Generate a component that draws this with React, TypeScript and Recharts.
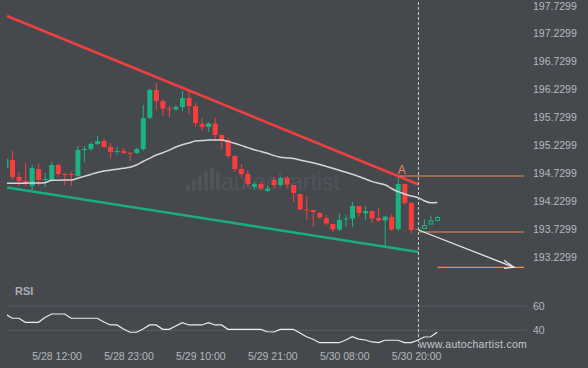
import React from 'react';
import {
  ComposedChart,
  Bar,
  Line,
  XAxis,
  YAxis,
  ReferenceLine,
  ReferenceDot
} from 'recharts';

// hourly candles, 5/28 04:00 onwards
const opens = [194.873, 195.016, 194.712, 194.641, 194.552, 194.855, 194.659, 194.659, 194.927, 194.766,
  194.766, 194.730, 195.194, 195.212, 195.302, 195.355, 195.248, 195.168, 195.177, 195.141,
  195.141, 195.212, 195.766, 196.266, 196.069, 195.936, 195.918, 195.962, 196.123, 195.980,
  195.659, 195.605, 195.668, 195.462, 195.373, 195.087, 194.855, 194.766, 194.534, 194.587,
  194.462, 194.659, 194.569, 194.694, 194.569, 194.409, 194.132, 194.123, 194.069, 193.980,
  193.873, 193.775, 193.962, 193.971, 194.194, 194.061, 194.105, 193.980, 193.936, 193.998,
  193.784, 194.587, 194.248, 193.775, 193.793, 193.873, 193.936];
const highs = [195.052, 195.177, 194.802, 194.962, 194.927, 194.944, 194.784, 194.980, 194.944, 194.784,
  194.802, 195.266, 195.266, 195.337, 195.444, 195.391, 195.319, 195.248, 195.230, 195.159,
  195.230, 195.998, 196.284, 196.391, 196.105, 195.980, 195.998, 196.248, 196.248, 196.034,
  195.766, 195.686, 195.766, 195.462, 195.409, 195.105, 194.944, 194.837, 194.623, 194.623,
  194.552, 194.712, 194.712, 194.730, 194.569, 194.409, 194.373, 194.123, 194.087, 194.034,
  193.873, 194.061, 194.034, 194.266, 194.194, 194.194, 194.105, 194.159, 194.007, 194.052,
  194.718, 194.596, 194.266, 193.784, 193.953, 194.025, 194.021];
const lows = [194.855, 194.659, 194.552, 194.552, 194.462, 194.552, 194.534, 194.623, 194.712, 194.569,
  194.552, 194.712, 194.980, 195.177, 195.284, 195.230, 195.052, 195.105, 195.123, 194.998,
  195.123, 195.177, 195.748, 195.909, 195.802, 195.784, 195.891, 195.891, 195.837, 195.605,
  195.534, 195.516, 195.373, 195.212, 195.052, 194.802, 194.694, 194.534, 194.480, 194.480,
  194.444, 194.516, 194.552, 194.516, 194.266, 194.123, 193.944, 193.819, 193.971, 193.855,
  193.730, 193.748, 193.819, 193.819, 194.007, 193.944, 193.891, 193.909, 193.468, 193.748,
  193.748, 194.212, 193.703, 193.766, 193.793, 193.873, 193.936];
const closes = [195.034, 194.712, 194.641, 194.605, 194.873, 194.659, 194.677, 194.927, 194.766, 194.748,
  194.748, 195.194, 195.212, 195.302, 195.355, 195.248, 195.159, 195.177, 195.141, 195.132,
  195.212, 195.766, 196.266, 196.069, 195.936, 195.927, 195.962, 196.123, 195.980, 195.677,
  195.605, 195.668, 195.462, 195.373, 195.087, 194.855, 194.766, 194.587, 194.587, 194.507,
  194.507, 194.569, 194.694, 194.578, 194.427, 194.132, 194.123, 194.087, 193.989, 193.882,
  193.775, 193.944, 193.971, 194.194, 194.069, 194.105, 193.971, 193.936, 194.007, 193.775,
  194.587, 194.248, 193.766, 193.784, 193.846, 193.927, 193.989];
const maValues = [194.600, 194.600, 194.600, 194.602, 194.605, 194.605, 194.611, 194.653, 194.655, 194.657,
  194.659, 194.689, 194.723, 194.757, 194.794, 194.819, 194.834, 194.852, 194.869, 194.886,
  194.927, 194.989, 195.046, 195.105, 195.144, 195.191, 195.248, 195.289, 195.319, 195.355,
  195.362, 195.371, 195.373, 195.373, 195.348, 195.314, 195.277, 195.237, 195.198, 195.168,
  195.137, 195.096, 195.064, 195.052, 195.043, 195.016, 194.989, 194.966, 194.936, 194.902,
  194.868, 194.832, 194.796, 194.762, 194.721, 194.677, 194.634, 194.602, 194.573, 194.507,
  194.450, 194.409, 194.373, 194.346, 194.289, 194.253, 194.257];
const rsiValues = [53.2, 49.9, 49.9, 46.6, 46.6, 46.6, 50.5, 53.4, 53.4, 53.4,
  49.9, 49.9, 49.9, 49.9, 49.9, 46.8, 44.4, 44.4, 41.1, 38.4,
  38.4, 41.1, 44.4, 44.4, 40.8, 40.8, 43.5, 46.3, 44.4, 44.4,
  44.4, 46.3, 44.4, 44.4, 40.8, 40.8, 40.8, 40.8, 40.8, 40.8,
  38.8, 38.6, 40.8, 40.8, 40.8, 37.8, 34.7, 32.6, 29.8, 29.8,
  29.8, 29.8, 32.0, 34.7, 32.8, 32.0, 30.4, 29.8, 31.8, 31.8,
  31.8, 29.8, 29.8, 31.8, 34.5, 34.7, 38.4];

const timeTickIndex = [8, 19, 30, 41, 52, 63];
const timeTickLabels = ['5/28 12:00', '5/28 23:00', '5/29 10:00', '5/29 21:00', '5/30 08:00', '5/30 20:00'];
const priceTicks = [193.2299, 193.7299, 194.2299, 194.7299, 195.2299, 195.7299, 196.2299, 196.7299, 197.2299, 197.7299];
const rsiTicks = [40, 60];

// pattern annotations (x in candle index units)
const patternEnd = 63.13;
const resistanceLine = [{ x: 0.19, y: 197.587 }, { x: 63.13, y: 194.578 }];
const supportLine = [{ x: 0.19, y: 194.5245 }, { x: 63.13, y: 193.3728 }];
const breakoutLevel = [{ x: 60.19, y: 194.7299 }, { x: 79.27, y: 194.7299 }];
const currentLevel = [{ x: 63.25, y: 193.7299 }, { x: 79.27, y: 193.7299 }];
const targetLevel = [{ x: 66.04, y: 193.0996 }, { x: 79.27, y: 193.0996 }];
const forecastArrow = [{ x: 63.13, y: 193.766 }, { x: 77.75, y: 193.0996 }];

const BG = '#45494e';
const GREEN = '#1bb381';
const RED = '#fb3d3d';
const ORANGE = '#f58b4c';
const AXIS_TEXT = '#b4b8bd';

const xDomain = [0.19, 79.73];

const data = opens.map((open, idx) => ({
  idx,
  open,
  high: highs[idx],
  low: lows[idx],
  close: closes[idx],
  ma: maValues[idx],
  rsi: rsiValues[idx]
}));

const Candle = (props: any) => {
  const { x, y, width, height, payload } = props;
  const { open, close, high, low, idx } = payload;
  const top = Math.min(y, y + height);
  const span = Math.abs(height);
  const unit = high > low ? span / (high - low) : 0;
  const toY = (v: number) => top + (high - v) * unit;
  const color = close >= open ? GREEN : RED;
  const cx = x + width / 2;
  const bodyTop = toY(Math.max(open, close));
  const bodyH = Math.max(1, Math.abs(toY(open) - toY(close)));
  const hollow = idx > patternEnd;
  return (
    <g>
      <line x1={cx} x2={cx} y1={top} y2={top + span} stroke={color} strokeWidth={1} />
      {hollow ? (
        <rect x={x + 0.5} y={bodyTop} width={width - 1} height={bodyH} fill={BG} stroke={color} strokeWidth={1} />
      ) : (
        <rect x={x} y={bodyTop} width={width} height={bodyH} fill={color} />
      )}
    </g>
  );
};

const PriceTick = ({ x, y, payload }: any) => (
  <text x={x} y={y + 0.5} fill={AXIS_TEXT} fontSize={10.5} textAnchor="start">
    {payload.value.toFixed(4)}
  </text>
);

const RsiTick = ({ x, y, payload }: any) => (
  <text x={x} y={y + 3.8} fill={AXIS_TEXT} fontSize={10.5} textAnchor="start">
    {payload.value}
  </text>
);

const ArrowHead = ({ cx, cy }: any) => (
  <path d={`M${cx - 10},${cy - 7} L${cx},${cy} L${cx - 10},${cy + 1}`} fill="none" stroke="#e6e6e6" strokeWidth={1.3} />
);

const Watermark = () => {
  const bars = [[186, 185], [192, 180], [198, 175], [204, 171], [210, 168], [216, 172]];
  return (
    <svg width={588} height={368} style={{ position: 'absolute', left: 0, top: 0 }}>
      {bars.map(([bx, by], i) => (
        <rect key={i} x={bx} y={by} width={4} height={191 - by} rx={2} fill="#505459" />
      ))}
      <text x={221} y={190} fontSize={23} fill="#505459">autochartist</text>
    </svg>
  );
};

export default function App() {
  return (
    <div
      style={{
        position: 'absolute',
        left: 0,
        top: 0,
        width: 588,
        height: 368,
        background: BG,
        fontFamily: '"Liberation Sans", Arial, sans-serif',
        overflow: 'hidden'
      }}
    >
      <Watermark />
      <div style={{ position: 'absolute', left: 0, top: 0 }}>
        <ComposedChart width={588} height={280} data={data} margin={{ top: 0, right: 0, bottom: 0, left: 7 }}>
          <XAxis dataKey="idx" type="number" domain={xDomain} allowDataOverflow hide />
          <YAxis
            orientation="right"
            width={61}
            domain={[192.8728, 197.8728]}
            allowDataOverflow
            ticks={priceTicks}
            axisLine={false}
            tickLine={false}
            tickSize={0}
            tickMargin={6}
            tick={<PriceTick />}
          />
          <Bar dataKey={(d: any) => [d.low, d.high]} barSize={5} shape={<Candle />} isAnimationActive={false} />
          <Line dataKey="ma" type="monotone" stroke="#d6d6d6" strokeWidth={1.5} dot={false} isAnimationActive={false} />
          <ReferenceLine segment={resistanceLine} stroke="#f03f3f" strokeWidth={2.5} />
          <ReferenceLine segment={supportLine} stroke="#19ad7f" strokeWidth={2.5} />
          <ReferenceLine segment={breakoutLevel} stroke={ORANGE} strokeWidth={1.2} />
          <ReferenceLine segment={currentLevel} stroke={ORANGE} strokeWidth={1.2} />
          <ReferenceLine segment={targetLevel} stroke={ORANGE} strokeWidth={1.2} />
          <ReferenceLine segment={forecastArrow} stroke="#e6e6e6" strokeWidth={1.3} />
          <ReferenceDot x={forecastArrow[1].x} y={forecastArrow[1].y} r={0} shape={<ArrowHead />} />
          <ReferenceDot
            x={60.57}
            y={breakoutLevel[0].y}
            r={0}
            fill="none"
            stroke="none"
            label={{ value: 'A', position: 'top', fill: '#ec8a4f', fontSize: 12, offset: 2 }}
          />
          <ReferenceLine x={patternEnd} stroke="#c9c9c9" strokeDasharray="3 2" />
        </ComposedChart>
      </div>
      <div style={{ position: 'absolute', left: 0, top: 280 }}>
        <ComposedChart width={588} height={88} data={data} margin={{ top: 0, right: 0, bottom: 0, left: 7 }}>
          <XAxis
            dataKey="idx"
            type="number"
            domain={xDomain}
            allowDataOverflow
            ticks={timeTickIndex}
            interval={0}
            height={21}
            axisLine={false}
            tickLine={false}
            tickSize={0}
            tickMargin={6}
            tick={{ fill: AXIS_TEXT, fontSize: 10.5, dx: -1 }}
            tickFormatter={(v: number) => timeTickLabels[timeTickIndex.indexOf(v)]}
          />
          <YAxis
            orientation="right"
            width={61}
            domain={[26.25, 81.4]}
            allowDataOverflow
            ticks={rsiTicks}
            axisLine={false}
            tickLine={false}
            tickSize={0}
            tickMargin={6}
            tick={<RsiTick />}
          />
          {rsiTicks.map((t) => (
            <ReferenceLine key={t} y={t} stroke="#5a5e63" strokeWidth={1} />
          ))}
          <Line dataKey="rsi" type="linear" stroke="#ececec" strokeWidth={1.2} dot={false} isAnimationActive={false} />
          <ReferenceLine x={patternEnd} stroke="#c9c9c9" strokeDasharray="3 2" />
        </ComposedChart>
      </div>
      <svg width={588} height={368} style={{ position: 'absolute', left: 0, top: 0, pointerEvents: 'none' }}>
        <text x={15} y={295} fontSize={11} fontWeight="bold" fill="#a9adb3">RSI</text>
        <text x={419} y={348} fontSize={10.5} letterSpacing={0.3} fill="#c3c7cb">www.autochartist.com</text>
      </svg>
    </div>
  );
}
